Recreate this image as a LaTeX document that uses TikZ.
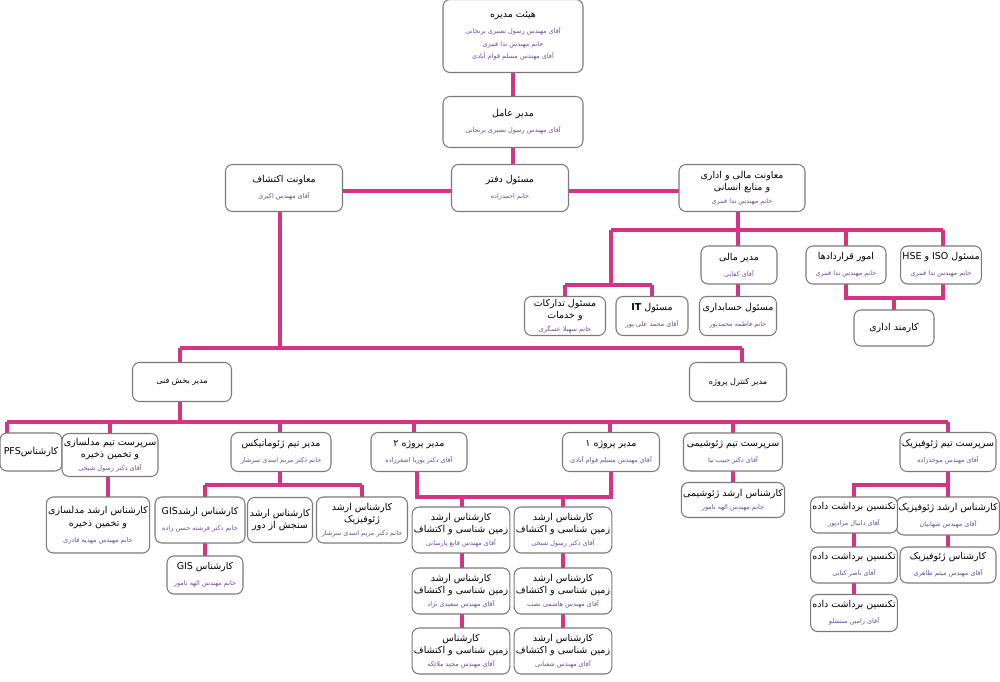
\documentclass[tikz,border=0pt]{standalone}
\usepackage{fontspec}
\newfontfamily\arabicfont[Script=Arabic]{DejaVu Sans}
\TeXXeTstate=1
\definecolor{lnc}{HTML}{D63384}
\definecolor{namec}{HTML}{6A4A9C}
\definecolor{bdc}{HTML}{7A7A7A}
\newcommand\R[1]{\beginR #1\endR}
\newcommand\T[1]{{\fontsize{5.4}{6.6}\selectfont\R{#1}}}
\newcommand\N[1]{{\fontsize{3.7}{5.6}\selectfont\color{namec}\R{#1}}}
\newcommand\bx[6]{\node[bx,minimum width=#4*0.02cm,minimum height=#5*0.02cm] (#1) at (#2,#3) {#6};}
\tikzset{bx/.style={draw=bdc,line width=0.6pt,rounded corners=4pt,fill=white,align=center,inner sep=1pt,font=\arabicfont\fontsize{5.4}{7.2}\selectfont},
ln/.style={draw=lnc,line width=1.8pt}}
\begin{document}
\begin{tikzpicture}[x=0.02cm,y=-0.02cm]
\useasboundingbox (0,0) rectangle (1000,682);
\draw[ln] (513,40) -- (513,122) -- (513,188);
\draw[ln] (284,191) -- (742,191);
\draw[ln] (738,191) -- (738,230);
\draw[ln] (611,230) -- (943,230);
\foreach \x in {611,738,846,943} \draw[ln] (\x,230) -- (\x,265);
\draw[ln] (611,230) -- (611,285);
\draw[ln] (565,285) -- (652,285);
\foreach \x in {565,652} \draw[ln] (\x,285) -- (\x,316);
\draw[ln] (738,265) -- (738,316);
\draw[ln] (846,265) -- (846,298) -- (943,298) -- (943,265);
\draw[ln] (894,298) -- (894,328);
\draw[ln] (280,191) -- (280,348);
\draw[ln] (180,348) -- (742,348);
\draw[ln] (180,348) -- (180,382); \draw[ln] (742,348) -- (742,382);
\draw[ln] (180,382) -- (180,422);
\draw[ln] (7,422) -- (948,422);
\foreach \x in {7,110,280,414,610,733,948} \draw[ln] (\x,422) -- (\x,452);
\draw[ln] (108,452) -- (108,525);
\draw[ln] (280,452) -- (280,485);
\draw[ln] (205,485) -- (362,485);
\draw[ln] (205,485) -- (205,575); \draw[ln] (362,485) -- (362,520);
\draw[ln] (417,452) -- (417,497) -- (611,497) -- (611,452);
\draw[ln] (462,497) -- (462,651); \draw[ln] (563,497) -- (563,651);
\draw[ln] (733,452) -- (733,500);
\draw[ln] (948,452) -- (948,565);
\draw[ln] (948,470) -- (948,485) -- (854,485) -- (854,613);
\bx{board}{513}{36}{140}{73}{\T{هیئت مدیره}\\[2pt]\N{آقای مهندس رسول نصیری برنجانی}\\\N{خانم مهندس ندا قنبری}\\\N{آقای مهندس مسلم قوام آبادی}}
\bx{ceo}{513}{122}{140}{51}{\T{مدیر عامل}\\[2pt]\N{آقای مهندس رسول نصیری برنجانی}}
\bx{off}{510}{188}{117}{47}{\T{مسئول دفتر}\\[2pt]\N{خانم احمدزاده}}
\bx{evp}{284}{188}{117}{47}{\T{معاونت اکتشاف}\\[2pt]\N{آقای مهندس اکبری}}
\bx{fvp}{742}{188}{126}{47}{\T{معاونت مالی و اداری}\\\T{و منابع انسانی}\\\N{خانم مهندس ندا قنبری}}
\bx{fin}{739}{265}{76}{38}{\T{مدیر مالی}\\[2pt]\N{آقای کفایی}}
\bx{cnt}{846}{265}{80}{38}{\T{امور قراردادها}\\[2pt]\N{خانم مهندس ندا قنبری}}
\bx{hse}{941}{265}{80}{38}{\T{مسئول \beginL ISO\endL{} و \beginL HSE\endL}\\[2pt]\N{خانم مهندس ندا قنبری}}
\bx{acc}{738}{316}{77}{39}{\T{مسئول حسابداری}\\[2pt]\N{خانم فاطمه محمدپور}}
\bx{it}{652}{316}{72}{39}{\T{مسئول \beginL\textbf{IT}\endL}\\[2pt]\N{آقای محمد علی پور}}
\bx{tdk}{565}{316}{81}{39}{\T{مسئول تدارکات}\\\T{و خدمات}\\\N{خانم سهیلا عسگری}}
\bx{kar}{894}{328}{80}{36}{\T{کارمند اداری}}
\bx{tech}{182}{382}{99}{39}{{\fontsize{4.6}{6}\selectfont\R{مدیر بخش فنی}}}
\bx{ctl}{738}{382}{97}{39}{{\fontsize{4.6}{6}\selectfont\R{مدیر کنترل پروژه}}}
\bx{pfs}{31}{452}{62}{38}{\T{کارشناس\beginL PFS\endL}}
\bx{mod}{110}{455}{90}{43}{\T{سرپرست تیم مدلسازی}\\\T{و تخمین ذخیره}\\\N{آقای دکتر رسول شیخی}}
\bx{geom}{281}{452}{100}{39}{\T{مدیر تیم ژئوماتیکس}\\[2pt]\N{خانم دکتر مریم اسدی سرشار}}
\bx{p2}{419}{452}{96}{39}{\T{مدیر پروژه ۲}\\[2pt]\N{آقای دکتر پوریا اصغرزاده}}
\bx{p1}{611}{452}{97}{39}{\T{مدیر پروژه ۱}\\[2pt]\N{آقای مهندس مسلم قوام آبادی}}
\bx{gch}{733}{452}{99}{38}{\T{سرپرست تیم ژئوشیمی}\\[2pt]\N{آقای دکتر حبیب نیا}}
\bx{gph}{948}{452}{96}{39}{\T{سرپرست تیم ژئوفیزیک}\\[2pt]\N{آقای مهندس موحدزاده}}
\bx{modk}{98}{525}{103}{56}{\T{کارشناس ارشد مدلسازی}\\\T{و تخمین ذخیره}\\[2pt]\N{خانم مهندس مهدیه قادری}}
\bx{gisk}{200}{520}{90}{46}{\T{کارشناس ارشد\beginL GIS\endL}\\[2pt]\N{خانم دکتر فرشته حسن زاده}}
\bx{dur}{280}{520}{65}{45}{\T{کارشناس ارشد}\\\T{سنجش از دور}}
\bx{gpk}{362}{520}{91}{46}{\T{کارشناس ارشد}\\\T{ژئوفیزیک}\\\N{خانم دکتر مریم اسدی سرشار}}
\bx{gis}{205}{575}{76}{38}{\T{کارشناس \beginL GIS\endL}\\[2pt]\N{خانم مهندس الهه نامور}}
\bx{a1}{461}{530}{93}{46}{\T{کارشناس ارشد}\\\T{زمین شناسی و اکتشاف}\\\N{آقای مهندس قانع پارسانی}}
\bx{a2}{461}{591}{93}{46}{\T{کارشناس ارشد}\\\T{زمین شناسی و اکتشاف}\\\N{آقای مهندس سعیدی نژاد}}
\bx{a3}{461}{651}{93}{46}{\T{کارشناس}\\\T{زمین شناسی و اکتشاف}\\\N{آقای مهندس مجید ملائکه}}
\bx{b1}{563}{530}{94}{46}{\T{کارشناس ارشد}\\\T{زمین شناسی و اکتشاف}\\\N{آقای دکتر رسول شیخی}}
\bx{b2}{563}{591}{94}{46}{\T{کارشناس ارشد}\\\T{زمین شناسی و اکتشاف}\\\N{آقای مهندس هاشمی نصب}}
\bx{b3}{563}{651}{94}{46}{\T{کارشناس ارشد}\\\T{زمین شناسی و اکتشاف}\\\N{آقای مهندس شعبانی}}
\bx{gchk}{733}{500}{96}{35}{\T{کارشناس ارشد ژئوشیمی}\\\N{خانم مهندس الهه نامور}}
\bx{gpa}{948}{516}{96}{38}{\T{کارشناس ارشد ژئوفیزیک}\\[2pt]\N{آقای مهندس شهابیان}}
\bx{gpb}{948}{565}{96}{36}{\T{کارشناس ژئوفیزیک}\\[2pt]\N{آقای مهندس میثم طاهری}}
\bx{t1}{854}{515}{75}{36}{\T{تکنسین برداشت داده}\\[2pt]\N{آقای دانیال مرادپور}}
\bx{t2}{854}{565}{75}{36}{\T{تکنسین برداشت داده}\\[2pt]\N{آقای ناصر کتابی}}
\bx{t3}{854}{613}{75}{37}{\T{تکنسین برداشت داده}\\[2pt]\N{آقای رامین منتشلو}}
\end{tikzpicture}
\end{document}
